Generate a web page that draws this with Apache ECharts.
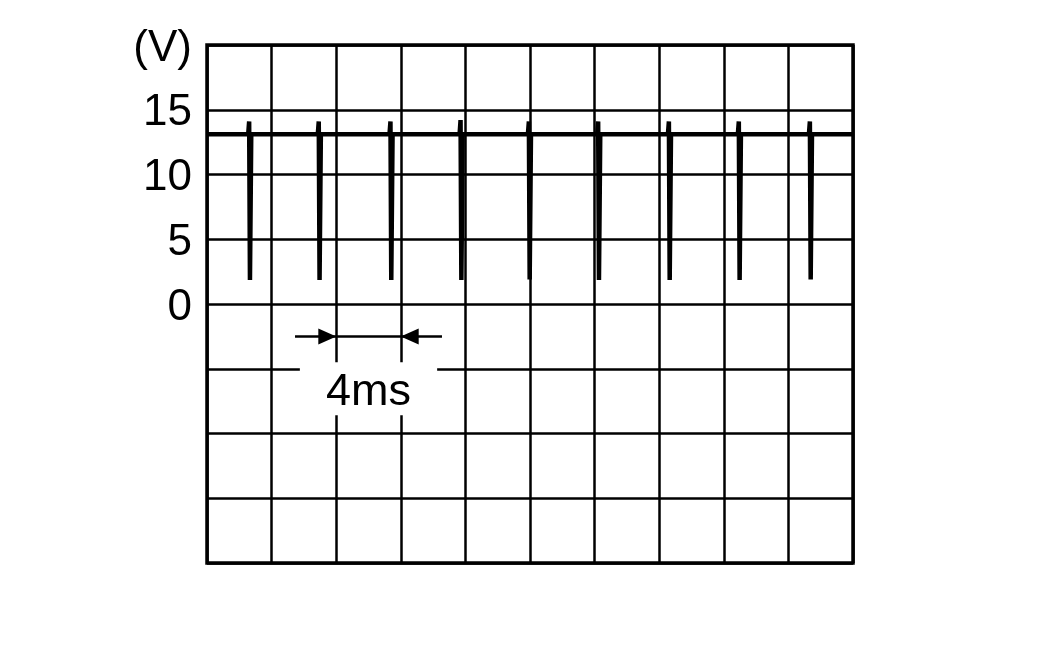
<!DOCTYPE html>
<html>
<head>
<meta charset="UTF-8">
<title>Waveform</title>
<script src="https://cdn.jsdelivr.net/npm/echarts@6/dist/echarts.min.js"></script>
<style>
  html, body { margin: 0; padding: 0; background: #fff; }
  #main { width: 1063px; height: 661px; }
</style>
</head>
<body>
<div id="main"></div>
<script>
// values (time in ms, voltage in V)
var baseLevel = 13.1;
var spikeTimes = [2.62, 6.93, 11.37, 15.71, 19.94, 24.23, 28.61, 32.94, 37.34];
var spikePeaks = [14.1, 14.1, 14.1, 14.2, 14.1, 14.1, 14.1, 14.1, 14.1];
var spikeLows  = [1.85, 1.85, 1.85, 1.85, 1.9, 1.85, 1.85, 1.85, 1.9];
var yTickLabels = { '0': '0', '5': '5', '10': '10', '15': '15', '20': '(V)' };

// build the trace: flat baseline with one narrow spike per entry
var trace = [[0, baseLevel]];
for (var i = 0; i < spikeTimes.length; i++) {
    var t = spikeTimes[i];
    trace.push([t - 0.07, baseLevel]);
    trace.push([t - 0.01, spikePeaks[i]]);
    trace.push([t + 0.04, spikeLows[i]]);
    trace.push([t + 0.12, baseLevel]);
}
trace.push([40, baseLevel]);

var myChart = echarts.init(document.getElementById('main'));
var font = '"Liberation Sans", Arial, sans-serif';
var option = {
    animation: false,
    backgroundColor: '#fff',
    grid: {
        left: 207, top: 45, right: 210, bottom: 98,
        show: true, borderColor: '#000', borderWidth: 3.5, backgroundColor: 'transparent'
    },
    xAxis: {
        type: 'value', min: 0, max: 40, interval: 4,
        axisLine: { show: false },
        axisTick: { show: false },
        axisLabel: { show: false },
        splitLine: { show: true, lineStyle: { color: '#000', width: 2.5 } }
    },
    yAxis: {
        type: 'value', min: -20, max: 20, interval: 5,
        axisLine: { show: false },
        axisTick: { show: false },
        axisLabel: {
            show: true, color: '#000', fontSize: 44, fontFamily: font, margin: 15,
            formatter: function (v) {
                var s = yTickLabels[String(v)];
                return s ? '{t|' + s + '}' : '';
            },
            rich: {
                t: { fontSize: 44, fontFamily: font, color: '#000', padding: [7, 0, 0, 0] }
            }
        },
        splitLine: { show: true, lineStyle: { color: '#000', width: 2.5 } }
    },
    series: [{
        type: 'line',
        data: trace,
        showSymbol: false,
        symbol: 'none',
        lineStyle: { color: '#000', width: 4.5 },
        z: 5,
        markArea: {
            silent: true,
            itemStyle: { color: '#fff' },
            label: {
                show: true, position: 'inside', color: '#000',
                formatter: '{t|{b}}',
                rich: {
                    t: { fontSize: 45, fontFamily: font, color: '#000', padding: [7, 0, 0, 0] }
                }
            },
            data: [[{ name: '4ms', coord: [5.75, -4.5] }, { coord: [14.25, -8.6] }]]
        },
        markLine: {
            silent: true,
            symbol: ['none', 'triangle'],
            symbolSize: [16, 18],
            label: { show: false },
            lineStyle: { color: '#000', width: 2.5, type: 'solid' },
            data: [
                [{ coord: [5.45, -2.5] }, { coord: [7.45, -2.5] }],
                [{ coord: [14.55, -2.5] }, { coord: [12.55, -2.5] }],
                [{ coord: [7.5, -2.5], symbol: 'none' }, { coord: [12.5, -2.5], symbol: 'none' }]
            ]
        }
    }]
};
myChart.setOption(option);
</script>
</body>
</html>
